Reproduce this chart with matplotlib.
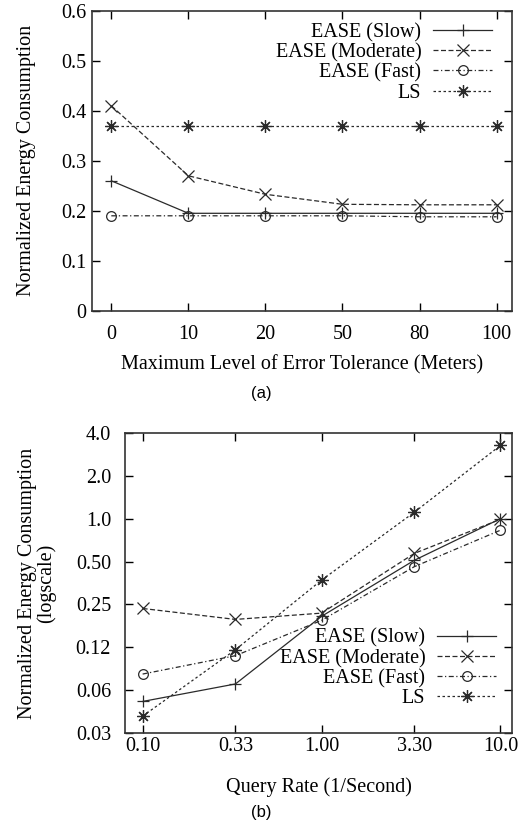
import matplotlib
matplotlib.use("Agg")
import matplotlib.pyplot as plt
import numpy as np

plt.rcParams['font.family'] = ['Liberation Serif', 'DejaVu Serif']
plt.rcParams['font.size'] = 14.5

# (a) error tolerance
tol_labels = ["0", "10", "20", "50", "80", "100"]
slow_a = [0.26, 0.195, 0.195, 0.195, 0.195, 0.195]
moderate_a = [0.41, 0.27, 0.233, 0.213, 0.212, 0.212]
fast_a = [0.19, 0.19, 0.19, 0.19, 0.188, 0.188]
ls_a = [0.37, 0.37, 0.37, 0.37, 0.37, 0.37]

# (b) query rate
rate = [0.10, 0.33, 1.00, 3.30, 10.0]
rate_labels = ["0.10", "0.33", "1.00", "3.30", "10.0"]
slow_b = [0.052, 0.069, 0.206, 0.51, 1.0]
moderate_b = [0.234, 0.196, 0.217, 0.57, 0.99]
fast_b = [0.081, 0.109, 0.193, 0.46, 0.83]
ls_b = [0.041, 0.12, 0.37, 1.11, 3.27]
ytick_b = [0.03125, 0.0625, 0.125, 0.25, 0.5, 1.0, 2.0, 4.0]
ytick_b_labels = ["0.03", "0.06", "0.12", "0.25", "0.50", "1.0", "2.0", "4.0"]

names = ["EASE (Slow)", "EASE (Moderate)", "EASE (Fast)", "LS"]
styles = [
    dict(ls='-', marker='+', ms=9),
    dict(ls=(0, (4, 2)), marker='x', ms=8),
    dict(ls=(0, (4, 2, 1, 2)), marker='o', ms=7, mfc='none'),
    dict(ls=(0, (2, 2)), marker=(8, 2, 0), ms=9),
]
lc = '#2a2a2a'

fig = plt.figure(figsize=(5.23, 8.31), dpi=100)

def style_axes(ax, xpad, ypad):
    ax.tick_params(direction='in', top=True, right=True, length=6, width=1,
                   labelsize=14.5)
    ax.tick_params(axis='x', pad=xpad)
    ax.tick_params(axis='y', pad=ypad)
    ax.tick_params(which='minor', length=0)
    for s in ax.spines.values():
        s.set_linewidth(1.2)
        s.set_color('#333333')

leg_kw = dict(markerfirst=False, frameon=False, fontsize=14.5,
              handlelength=2.9, labelspacing=0.05, borderaxespad=0,
              handletextpad=0.6)

# top plot
ax1 = fig.add_axes([0.176, 0.626, 0.803, 0.361])
x = np.arange(len(tol_labels))
for ys, nm, st in zip([slow_a, moderate_a, fast_a, ls_a], names, styles):
    ax1.plot(x, ys, color=lc, lw=0.9, mew=0.9, label=nm, **st)
ax1.set_xlim(-0.25, 5.2)
ax1.set_ylim(0, 0.6)
ax1.set_xticks(x)
ax1.set_xticklabels(tol_labels)
ax1.set_yticks(np.arange(0, 0.61, 0.1))
ax1.set_yticklabels(["0", "0.1", "0.2", "0.3", "0.4", "0.5", "0.6"])
style_axes(ax1, 10, 4)
ax1.set_xlabel("Maximum Level of Error Tolerance (Meters)", labelpad=8)
ax1.set_ylabel("Normalized Energy Consumption", labelpad=18)
ax1.legend(loc='upper right', bbox_to_anchor=(0.971, 0.987), **leg_kw)
fig.text(0.5, 0.527, "(a)", ha='center', va='center', fontsize=12,
         family=['Liberation Sans', 'DejaVu Sans'])

# bottom plot
ax2 = fig.add_axes([0.239, 0.118, 0.740, 0.361])
for ys, nm, st in zip([slow_b, moderate_b, fast_b, ls_b], names, styles):
    ax2.plot(rate, ys, color=lc, lw=0.9, mew=0.9, label=nm, **st)
ax2.set_xscale('log')
ax2.set_yscale('log', base=2)
ax2.set_xlim(0.0797, 11.6)
ax2.set_ylim(0.03125, 4.0)
ax2.set_xticks(rate)
ax2.set_xticklabels(rate_labels)
ax2.set_yticks(ytick_b)
ax2.set_yticklabels(ytick_b_labels)
ax2.minorticks_off()
style_axes(ax2, 3, 10)
ax2.set_xlabel("Query Rate (1/Second)", labelpad=15)
ax2.set_ylabel("Normalized Energy Consumption\n(logscale)",
               labelpad=14, linespacing=1.0)
ax2.legend(loc='lower right', bbox_to_anchor=(0.979, 0.055), **leg_kw)
fig.text(0.5, 0.022, "(b)", ha='center', va='center', fontsize=12,
         family=['Liberation Sans', 'DejaVu Sans'])

fig.savefig("out.png", dpi=100)
